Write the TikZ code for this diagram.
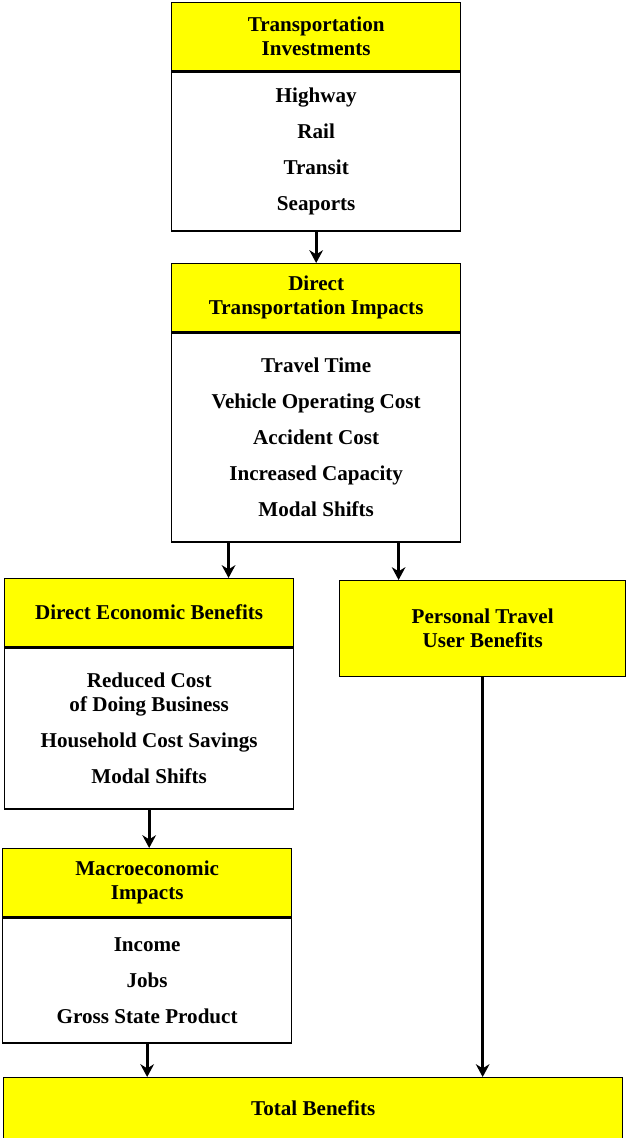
\documentclass[tikz,border=0pt]{standalone}
\usepackage{fontspec}
\setmainfont{Liberation Serif}
\usetikzlibrary{positioning,arrows.meta}
\definecolor{hdyellow}{RGB}{255,255,0}

\tikzset{
  head/.style={draw, line width=0.9pt, fill=hdyellow, align=center, inner sep=0pt,
    minimum width=7.225cm, minimum height=1.7cm, font=\fontsize{15}{17}\selectfont\bfseries},
  list/.style={draw, line width=0.9pt, fill=white, align=center, inner sep=0pt,
    minimum width=7.225cm, font=\fontsize{15}{17}\selectfont\bfseries},
  flow/.style={-{Stealth[length=0.32cm,width=0.34cm]}, line width=2.1pt},
}

\begin{document}
\begin{tikzpicture}[x=0.025cm, y=-0.025cm]
    \useasboundingbox (0,0) rectangle (625,1138);
    % investments
    \node[head, anchor=north west](invhd) at (171,2) {Transportation\\Investments};
    \node[list, below=0pt of invhd, minimum height=3.975cm](inv)
      {Highway\\[8.5pt]Rail\\[8.5pt]Transit\\[8.5pt]Seaports};
    % direct impacts
    \node[head, anchor=north west](imphd) at (171,263) {Direct\\Transportation Impacts};
    \node[list, below=0pt of imphd, minimum height=5.225cm](imp)
      {Travel Time\\[8.5pt]Vehicle Operating Cost\\[8.5pt]Accident Cost\\[8.5pt]Increased Capacity\\[8.5pt]Modal Shifts};
    % economic benefits
    \node[head, anchor=north west](econhd) at (4,578) {Direct Economic Benefits};
    \node[list, below=0pt of econhd, minimum height=4.025cm](econ)
      {Reduced Cost\\of Doing Business\\[8.5pt]Household Cost Savings\\[8.5pt]Modal Shifts};
    % user benefits
    \node[head, anchor=north west, minimum width=7.15cm, minimum height=2.4cm](pers) at (339,580)
      {Personal Travel\\User Benefits};
    % macro
    \node[head, anchor=north west](macrohd) at (2,848) {Macroeconomic\\Impacts};
    \node[list, below=0pt of macrohd, minimum height=3.125cm](macro)
      {Income\\[8.5pt]Jobs\\[8.5pt]Gross State Product};
    % total
    \node[head, anchor=north west, minimum width=15.475cm, minimum height=1.525cm](total) at (3,1077)
      {Total Benefits};

    \draw[flow](inv.south) -- (inv.south |- imphd.north);
    \draw[flow]([xshift=-2.19cm]imp.south) -- ([xshift=-2.19cm]imp.south |- econhd.north);
    \draw[flow]([xshift=2.06cm]imp.south) -- ([xshift=2.06cm]imp.south |- pers.north);
    \draw[flow](econ.south) -- (econ.south |- macrohd.north);
    \draw[flow](macro.south) -- (macro.south |- total.north);
    \draw[flow](pers.south) -- (pers.south |- total.north);
\end{tikzpicture}
\end{document}
